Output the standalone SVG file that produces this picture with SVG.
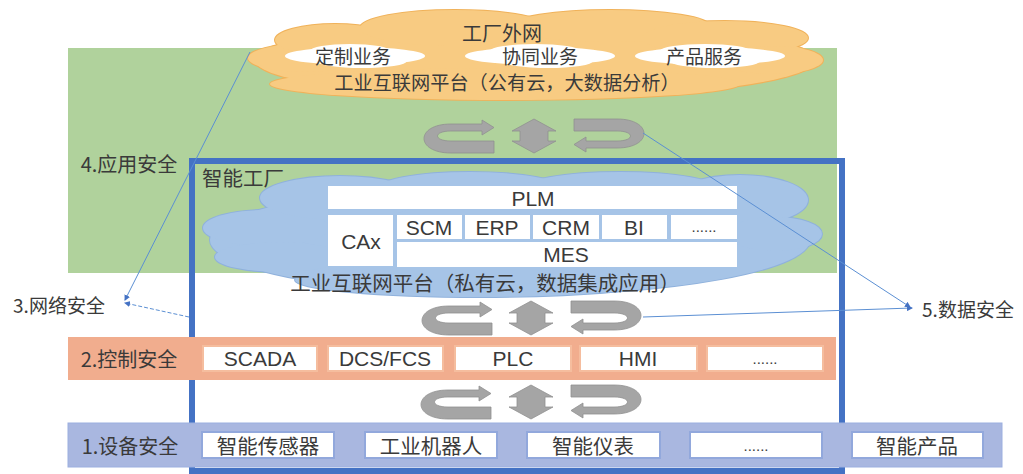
<svg xmlns="http://www.w3.org/2000/svg" width="1023" height="474" viewBox="0 0 1023 474">
<style>
.t{font-family:"Noto Sans CJK SC","Noto Sans",sans-serif;fill:#3a3a3a;text-anchor:middle;dominant-baseline:central}
.l{font-family:"Liberation Sans","Noto Sans CJK SC",sans-serif;fill:#3a3a3a;text-anchor:middle;dominant-baseline:central;font-size:21px}
.dots{font-family:"Liberation Sans",sans-serif;fill:#3a3a3a;text-anchor:middle;font-size:15px}
.cell{fill:#ffffff}
.obox{fill:#ffffff;stroke:#f5bd9e;stroke-width:2}
.bbox{fill:#ffffff;stroke:#92a8dc;stroke-width:2}
.conn{stroke:#5b8fd3;stroke-width:1;fill:none}
.arr{fill:#a5a5a5;stroke:#909090;stroke-width:0.8}
</style>
<defs>
<marker id="ah" markerWidth="6" markerHeight="6" refX="5" refY="3" orient="auto" markerUnits="userSpaceOnUse">
<path d="M0,0 L6,3 L0,6 Z" fill="#4472c4"/>
</marker>
<path id="curl" d="M 23,-12 L -8,-12 C -44,-12 -44,17 -8,17 L 35,17 L 35,5 L -8,5 C -26,5 -26,-5 -8,-5 L 23,-5 L 23,-1 L 35,-8.5 L 23,-16 Z"/>
<polygon id="hex" points="0,-17 22,-5 14,-5 14,5 22,5 0,17 -22,5 -14,5 -14,-5 -22,-5"/>
<g id="orangeShape">
<ellipse cx="535" cy="60" rx="280" ry="38"/>
<ellipse cx="305" cy="58" rx="57" ry="14"/>
<ellipse cx="335" cy="40" rx="60" ry="16"/>
<ellipse cx="455" cy="28" rx="95" ry="18"/>
<ellipse cx="610" cy="26" rx="100" ry="16"/>
<ellipse cx="725" cy="38" rx="83" ry="17"/>
<ellipse cx="772" cy="60" rx="51" ry="14"/>
<ellipse cx="505" cy="84" rx="235" ry="16"/>
</g>
<g id="blueShape">
<ellipse cx="510" cy="240" rx="300" ry="55"/>
<ellipse cx="266" cy="228" rx="63" ry="18"/>
<ellipse cx="280" cy="257" rx="65" ry="15"/>
<ellipse cx="340" cy="198" rx="80" ry="22"/>
<ellipse cx="470" cy="190" rx="95" ry="18"/>
<ellipse cx="620" cy="190" rx="100" ry="18"/>
<ellipse cx="740" cy="200" rx="68" ry="25"/>
<ellipse cx="775" cy="234" rx="47" ry="17"/>
<ellipse cx="480" cy="280" rx="185" ry="17"/>
</g>
</defs>

<g id="app-layer">
<rect x="68" y="48" width="769" height="225" fill="#b0d29c"/>
</g>

<g id="external-network">
<use href="#orangeShape" fill="none" stroke="#f0b25a" stroke-width="2"/>
<use href="#orangeShape" fill="#f8cb82"/>
<g fill="#ffffff">
<ellipse cx="355" cy="56" rx="70" ry="9"/>
<ellipse cx="350" cy="51" rx="40" ry="7"/>
<ellipse cx="362" cy="61" rx="45" ry="7"/>
<ellipse cx="540" cy="56" rx="75" ry="9"/>
<ellipse cx="535" cy="51" rx="45" ry="7"/>
<ellipse cx="548" cy="61" rx="45" ry="7"/>
<ellipse cx="710" cy="56" rx="75" ry="9"/>
<ellipse cx="705" cy="51" rx="45" ry="7"/>
<ellipse cx="715" cy="61" rx="45" ry="7"/>
</g>
<text class="t" x="502" y="32" font-size="20">工厂外网</text>
<text class="t" x="353" y="55" font-size="19">定制业务</text>
<text class="t" x="540" y="55" font-size="19">协同业务</text>
<text class="t" x="704" y="55" font-size="19">产品服务</text>
<text class="t" x="507" y="82" font-size="19.2">工业互联网平台（公有云，大数据分析）</text>
</g>

<g id="smart-factory">
<rect x="192" y="161" width="650" height="310" fill="none" stroke="#4472c4" stroke-width="6"/>
<text class="t" x="243" y="177" font-size="20.5">智能工厂</text>
</g>

<g id="private-cloud">
<use href="#blueShape" fill="none" stroke="#8fb1dc" stroke-width="2"/>
<use href="#blueShape" fill="#a6c4e7"/>
<text class="t" x="485" y="282" font-size="20.5">工业互联网平台（私有云，数据集成应用）</text>
</g>

<g id="plm"><rect class="cell" x="328" y="186" width="409" height="23"/><text class="l" x="533" y="198">PLM</text></g>
<g id="cax"><rect class="cell" x="328" y="215" width="65" height="51"/><text class="l" x="361" y="241">CAx</text></g>
<g id="scm"><rect class="cell" x="397" y="215" width="65" height="24"/><text class="l" x="429" y="227">SCM</text></g>
<g id="erp"><rect class="cell" x="465" y="215" width="65" height="24"/><text class="l" x="497" y="227">ERP</text></g>
<g id="crm"><rect class="cell" x="533" y="215" width="66" height="24"/><text class="l" x="566" y="227">CRM</text></g>
<g id="bi"><rect class="cell" x="602" y="215" width="65" height="24"/><text class="l" x="634" y="227">BI</text></g>
<g id="etc1"><rect class="cell" x="671" y="215" width="66" height="24"/><text class="dots" x="704" y="232">......</text></g>
<g id="mes"><rect class="cell" x="397" y="242" width="340" height="25"/><text class="l" x="566" y="254">MES</text></g>

<g id="flow-arrows">
<use href="#curl" class="arr" transform="translate(459,136)"/>
<use href="#hex" class="arr" transform="translate(534,136)"/>
<use href="#curl" class="arr" transform="translate(609,136) rotate(180)"/>
<use href="#curl" class="arr" transform="translate(457,318)"/>
<use href="#hex" class="arr" transform="translate(531,318)"/>
<use href="#curl" class="arr" transform="translate(606,318) rotate(180)"/>
<use href="#curl" class="arr" transform="translate(456,402)"/>
<use href="#hex" class="arr" transform="translate(531,402)"/>
<use href="#curl" class="arr" transform="translate(606,402) rotate(180)"/>
</g>

<g id="control-layer">
<rect x="68" y="337" width="768" height="43" fill="#f1ad8e"/>
<text class="t" x="129" y="358" font-size="20">2.控制安全</text>
</g>
<g id="scada"><rect class="obox" x="203" y="346" width="114" height="25"/><text class="l" x="260" y="358">SCADA</text></g>
<g id="dcs"><rect class="obox" x="328" y="346" width="115" height="25"/><text class="l" x="385" y="358">DCS/FCS</text></g>
<g id="plc"><rect class="obox" x="455" y="346" width="116" height="25"/><text class="l" x="513" y="358">PLC</text></g>
<g id="hmi"><rect class="obox" x="580" y="346" width="117" height="25"/><text class="l" x="638" y="358">HMI</text></g>
<g id="etc2"><rect class="obox" x="707" y="346" width="116" height="25"/><text class="dots" x="765" y="364">......</text></g>

<g id="device-layer">
<rect x="68" y="423" width="934" height="44" fill="#a9b7e0" stroke="#9cafe0" stroke-width="1"/>
<text class="t" x="130" y="445" font-size="20">1.设备安全</text>
</g>
<g id="sensor"><rect class="bbox" x="202" y="432" width="132" height="26"/><text class="t" x="268" y="445" font-size="20.5">智能传感器</text></g>
<g id="robot"><rect class="bbox" x="365" y="432" width="132" height="26"/><text class="t" x="431" y="445" font-size="20.5">工业机器人</text></g>
<g id="meter"><rect class="bbox" x="527" y="432" width="133" height="26"/><text class="t" x="593" y="445" font-size="20.5">智能仪表</text></g>
<g id="etc3"><rect class="bbox" x="690" y="432" width="132" height="26"/><text class="dots" x="756" y="451">......</text></g>
<g id="product"><rect class="bbox" x="852" y="432" width="131" height="26"/><text class="t" x="917" y="445" font-size="20.5">智能产品</text></g>

<g id="label-app"><text class="t" x="129" y="163" font-size="20">4.应用安全</text></g>
<g id="label-net"><text class="t" x="59" y="304" font-size="19" fill="#4a4a4a">3.网络安全</text></g>
<g id="label-data"><text class="t" x="968" y="308" font-size="19" fill="#4a4a4a">5.数据安全</text></g>

<g id="connectors">
<line class="conn" x1="250" y1="52" x2="125" y2="300" marker-end="url(#ah)"/>
<line class="conn" x1="189" y1="317" x2="125" y2="303" stroke-dasharray="4,2" marker-end="url(#ah)"/>
<line class="conn" x1="643" y1="133" x2="910" y2="307" marker-end="url(#ah)"/>
<line class="conn" x1="643" y1="317" x2="912" y2="308" marker-end="url(#ah)"/>
</g>
</svg>
